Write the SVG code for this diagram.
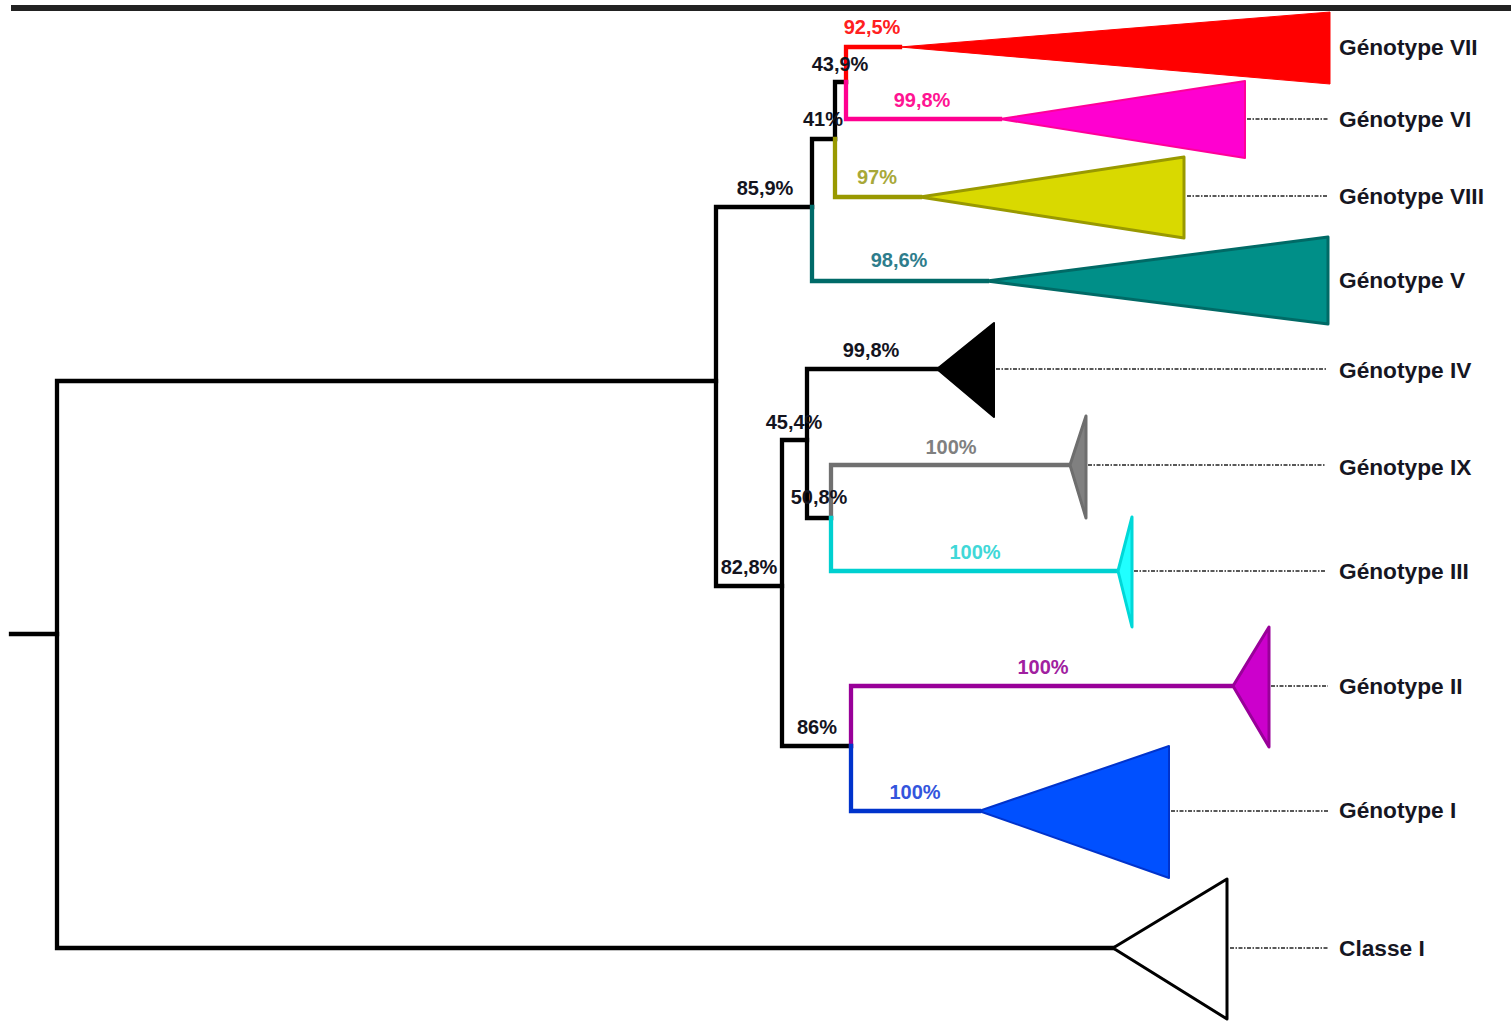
<svg xmlns="http://www.w3.org/2000/svg" width="1511" height="1021" viewBox="0 0 1511 1021">
  <style>
    .br { fill: none; stroke-width: 4.3; stroke-linejoin: miter; stroke-linecap: square; }
    .blk { stroke: #000; }
    .pct { font-family: "Liberation Sans", Arial, sans-serif; font-size: 20px; font-weight: bold; text-anchor: middle; }
    .lbl { font-family: "Liberation Sans", Arial, sans-serif; font-size: 22.7px; font-weight: bold; fill: #161622; }
    .lead { stroke: #222; stroke-width: 1.3; stroke-dasharray: 4 1.5 1.5 1.5; fill: none; }
    .tri { stroke-linejoin: round; }
  </style>

  <!-- frame rule along the top edge -->
  <rect x="11" y="5" width="1500" height="6" fill="#222"/>

  <!-- tree branches -->
  <g id="connectors">
    <path class="br blk" d="M11 634 H57"/>
    <path class="br blk" d="M716 381 H57 V948 H1113"/>
    <path class="br blk" d="M812 207 H716 V586 H782"/>
    <path class="br blk" d="M835 139 H812 V207"/>
    <path class="br" stroke="#006a68" d="M812 207 V281 H987"/>
    <path class="br blk" d="M846 82 H835 V139"/>
    <path class="br" stroke="#999900" d="M835 139 V197 H920"/>
    <path class="br" stroke="#ff0000" d="M846 82 V47 H900"/>
    <path class="br" stroke="#ff0090" d="M846 82 V119 H1000"/>
    <path class="br blk" d="M807 440 H782 V746 H851"/>
    <path class="br blk" d="M937 369 H807 V518 H831"/>
    <path class="br" stroke="#707070" d="M831 518 V465 H1070"/>
    <path class="br" stroke="#00d0d0" d="M831 518 V571 H1118"/>
    <path class="br" stroke="#990099" d="M851 746 V686 H1233"/>
    <path class="br" stroke="#0033cc" d="M851 746 V811 H979"/>

    <!-- dotted leaders to the labels -->
    <path class="lead" d="M1247 119 H1328"/>
    <path class="lead" d="M1187 196 H1328"/>
    <path class="lead" d="M996 369 H1326"/>
    <path class="lead" d="M1088 465 H1326"/>
    <path class="lead" d="M1134 571 H1326"/>
    <path class="lead" d="M1271 686 H1328"/>
    <path class="lead" d="M1171 811 H1328"/>
    <path class="lead" d="M1230 948 H1328"/>
  </g>

  <!-- support values -->
  <g id="support">
    <text class="pct" x="872" y="34" fill="#ff2020">92,5%</text>
    <text class="pct" x="840" y="71" fill="#14141e">43,9%</text>
    <text class="pct" x="922" y="107" fill="#ff1493">99,8%</text>
    <text class="pct" x="823" y="126" fill="#14141e">41%</text>
    <text class="pct" x="765" y="195" fill="#14141e">85,9%</text>
    <text class="pct" x="877" y="184" fill="#a8a838">97%</text>
    <text class="pct" x="899" y="267" fill="#2e7d8c">98,6%</text>
    <text class="pct" x="871" y="357" fill="#14141e">99,8%</text>
    <text class="pct" x="794" y="429" fill="#14141e">45,4%</text>
    <text class="pct" x="951" y="454" fill="#808080">100%</text>
    <text class="pct" x="819" y="504" fill="#14141e">50,8%</text>
    <text class="pct" x="975" y="559" fill="#40d8d8">100%</text>
    <text class="pct" x="749" y="574" fill="#14141e">82,8%</text>
    <text class="pct" x="1043" y="674" fill="#a020a0">100%</text>
    <text class="pct" x="817" y="734" fill="#14141e">86%</text>
    <text class="pct" x="915" y="799" fill="#3355dd">100%</text>
  </g>

  <!-- collapsed clades -->
  <g id="genotype-vii">
    <polygon class="tri" points="900,47 1330,12 1330,84" fill="#ff0000" stroke="#ff0000" stroke-width="1"/>
    <text class="lbl" x="1339" y="55">Génotype VII</text>
  </g>
  <g id="genotype-vi">
    <polygon class="tri" points="1000,119 1245,81 1245,158" fill="#ff00d0" stroke="#ff0099" stroke-width="2"/>
    <text class="lbl" x="1339" y="127">Génotype VI</text>
  </g>
  <g id="genotype-viii">
    <polygon class="tri" points="920,197 1184,157 1184,238" fill="#d9d900" stroke="#999900" stroke-width="3"/>
    <text class="lbl" x="1339" y="204">Génotype VIII</text>
  </g>
  <g id="genotype-v">
    <polygon class="tri" points="987,281 1328,237 1328,324" fill="#008f88" stroke="#006a66" stroke-width="3"/>
    <text class="lbl" x="1339" y="288">Génotype V</text>
  </g>
  <g id="genotype-iv">
    <polygon class="tri" points="937,369 994,323 994,417" fill="#000" stroke="#000" stroke-width="2"/>
    <text class="lbl" x="1339" y="378">Génotype IV</text>
  </g>
  <g id="genotype-ix">
    <polygon class="tri" points="1070,465 1086,416 1086,518" fill="#808080" stroke="#6e6e6e" stroke-width="3"/>
    <text class="lbl" x="1339" y="475">Génotype IX</text>
  </g>
  <g id="genotype-iii">
    <polygon class="tri" points="1118,571 1132,517 1132,627" fill="#20ffff" stroke="#00d8d8" stroke-width="3"/>
    <text class="lbl" x="1339" y="579">Génotype III</text>
  </g>
  <g id="genotype-ii">
    <polygon class="tri" points="1233,686 1269,627 1269,747" fill="#cc00cc" stroke="#990099" stroke-width="3"/>
    <text class="lbl" x="1339" y="694">Génotype II</text>
  </g>
  <g id="genotype-i">
    <polygon class="tri" points="979,811 1169,746 1169,878" fill="#0050ff" stroke="#0033cc" stroke-width="2"/>
    <text class="lbl" x="1339" y="818">Génotype I</text>
  </g>
  <g id="classe-i">
    <polygon class="tri" points="1113,948 1227,879 1227,1019" fill="#fff" stroke="#000" stroke-width="3"/>
    <text class="lbl" x="1339" y="956">Classe I</text>
  </g>
</svg>
